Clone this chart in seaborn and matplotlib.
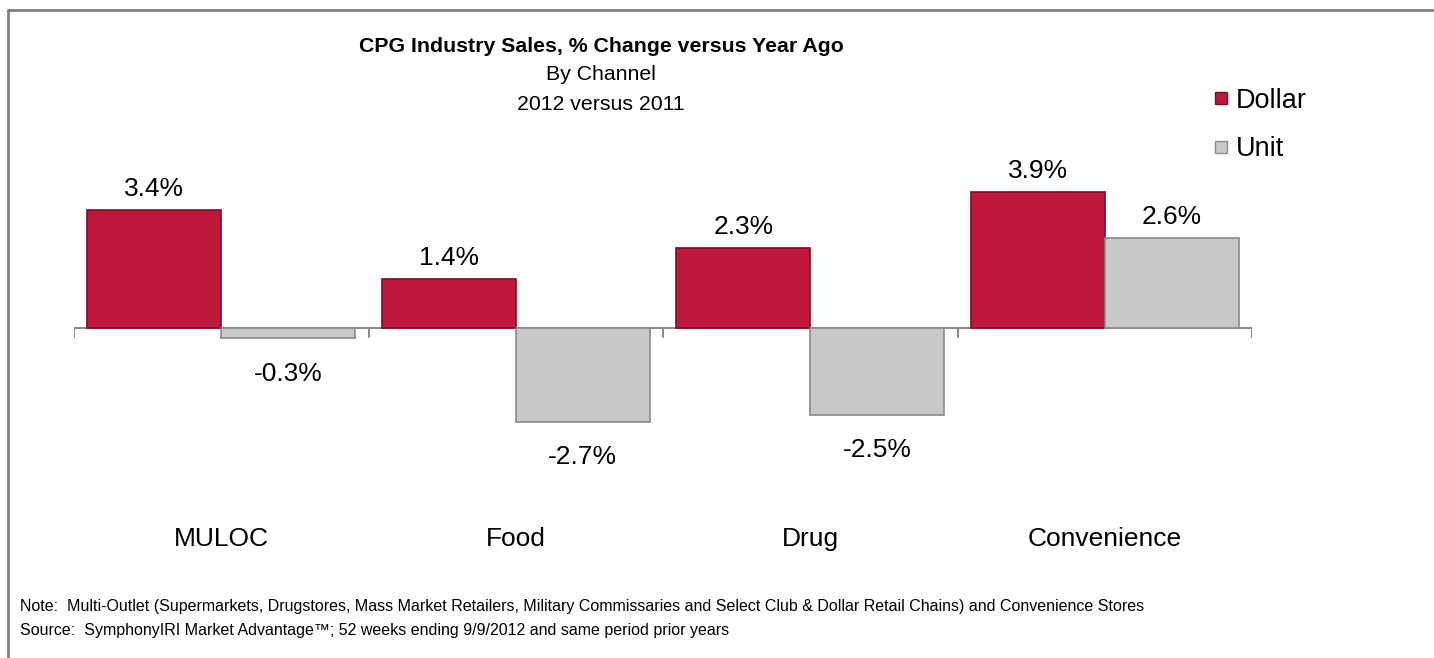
import pandas as pd
import matplotlib
matplotlib.use("Agg")
import matplotlib.pyplot as plt
import seaborn as sns
from matplotlib.lines import Line2D

channels = ["MULOC", "Food", "Drug", "Convenience"]
dollar_change = [3.4, 1.4, 2.3, 3.9]
unit_change = [-0.3, -2.7, -2.5, 2.6]
series = ["Dollar", "Unit"]

df = pd.DataFrame({
    "channel": channels * 2,
    "measure": ["Dollar"] * len(channels) + ["Unit"] * len(channels),
    "change": dollar_change + unit_change,
})

sns.set_style("white")
plt.rcParams['font.family'] = ['Liberation Sans', 'DejaVu Sans']
plt.rcParams['text.color'] = 'black'

fig = plt.figure(figsize=(14.34, 6.58), dpi=100)
ax = fig.add_axes([74 / 1434, 1 - 480 / 658, 1178 / 1434, 340 / 658])

palette = {"Dollar": "#c0183a", "Unit": "#c8c8c8"}
edges = {"Dollar": "#7e0c22", "Unit": "#8a8a8a"}
sns.barplot(data=df, x="channel", y="change", hue="measure", order=channels,
            hue_order=series, palette=palette, saturation=1, width=0.91, gap=0,
            legend=False, ax=ax)

# value labels above positive bars, below negative ones
for cont, name in zip(ax.containers, series):
    for bar in cont:
        bar.set_edgecolor(edges[name])
        bar.set_linewidth(1.2)
        v = bar.get_height()
        x = bar.get_x() + bar.get_width() / 2
        off = 10 if v >= 0 else -30.5
        ax.annotate(f"{v:.1f}%", (x, v), xytext=(0, off), textcoords="offset points",
                    ha="center", va="baseline", fontsize=19)

ax.set_xlim(-0.5, 3.5)
ax.set_ylim(-(480 - 328) / 34.8, (328 - 140) / 34.8)
ax.axhline(0, color="#8c8c8c", lw=1.5, zorder=0)
for i in range(len(channels) + 1):
    ax.plot([i - 0.5, i - 0.5], [0, -0.25], color="#8c8c8c", lw=1.5, zorder=0)
for s in ax.spines.values():
    s.set_visible(False)
ax.set_xticks([])
ax.set_yticks([])
ax.set_xlabel("")
ax.set_ylabel("")

for i, ch in enumerate(channels):
    ax.text(i, 1 - (546 - 140) / 340, ch, transform=ax.get_xaxis_transform(),
            ha="center", va="baseline", fontsize=19)

fig.text(601 / 1434, 1 - 46 / 658, "CPG Industry Sales, % Change versus Year Ago",
         ha="center", va="center", fontsize=15.3, fontweight="bold")
fig.text(601 / 1434, 1 - 75 / 658, "By Channel", ha="center", va="center", fontsize=15.3)
fig.text(601 / 1434, 1 - 104 / 658, "2012 versus 2011", ha="center", va="center", fontsize=15.3)

handles = [Line2D([], [], marker="s", linestyle="none", markersize=9,
                  markerfacecolor=palette[n], markeredgecolor=edges[n]) for n in series]
fig.legend(handles, series, loc="upper left", bbox_to_anchor=(1203 / 1434, 1 - 77 / 658),
           frameon=False, fontsize=19.5, handlelength=0.5, handletextpad=0.3,
           labelspacing=0.82, borderaxespad=0)

fig.text(20 / 1434, 1 - 606 / 658,
         "Note:  Multi-Outlet (Supermarkets, Drugstores, Mass Market Retailers, Military Commissaries "
         "and Select Club & Dollar Retail Chains) and Convenience Stores",
         ha="left", va="center", fontsize=11.55)
fig.text(20 / 1434, 1 - 631 / 658,
         "Source:  SymphonyIRI Market Advantage\u2122; 52 weeks ending 9/9/2012 and same period prior years",
         ha="left", va="center", fontsize=11.55)

fig.add_artist(Line2D([8 / 1434, 8 / 1434], [0, 1 - 10 / 658], color="#7f7f7f", lw=2))
fig.add_artist(Line2D([8 / 1434, 1], [1 - 10 / 658, 1 - 10 / 658], color="#7f7f7f", lw=2))

fig.savefig("out.png", dpi=100)
